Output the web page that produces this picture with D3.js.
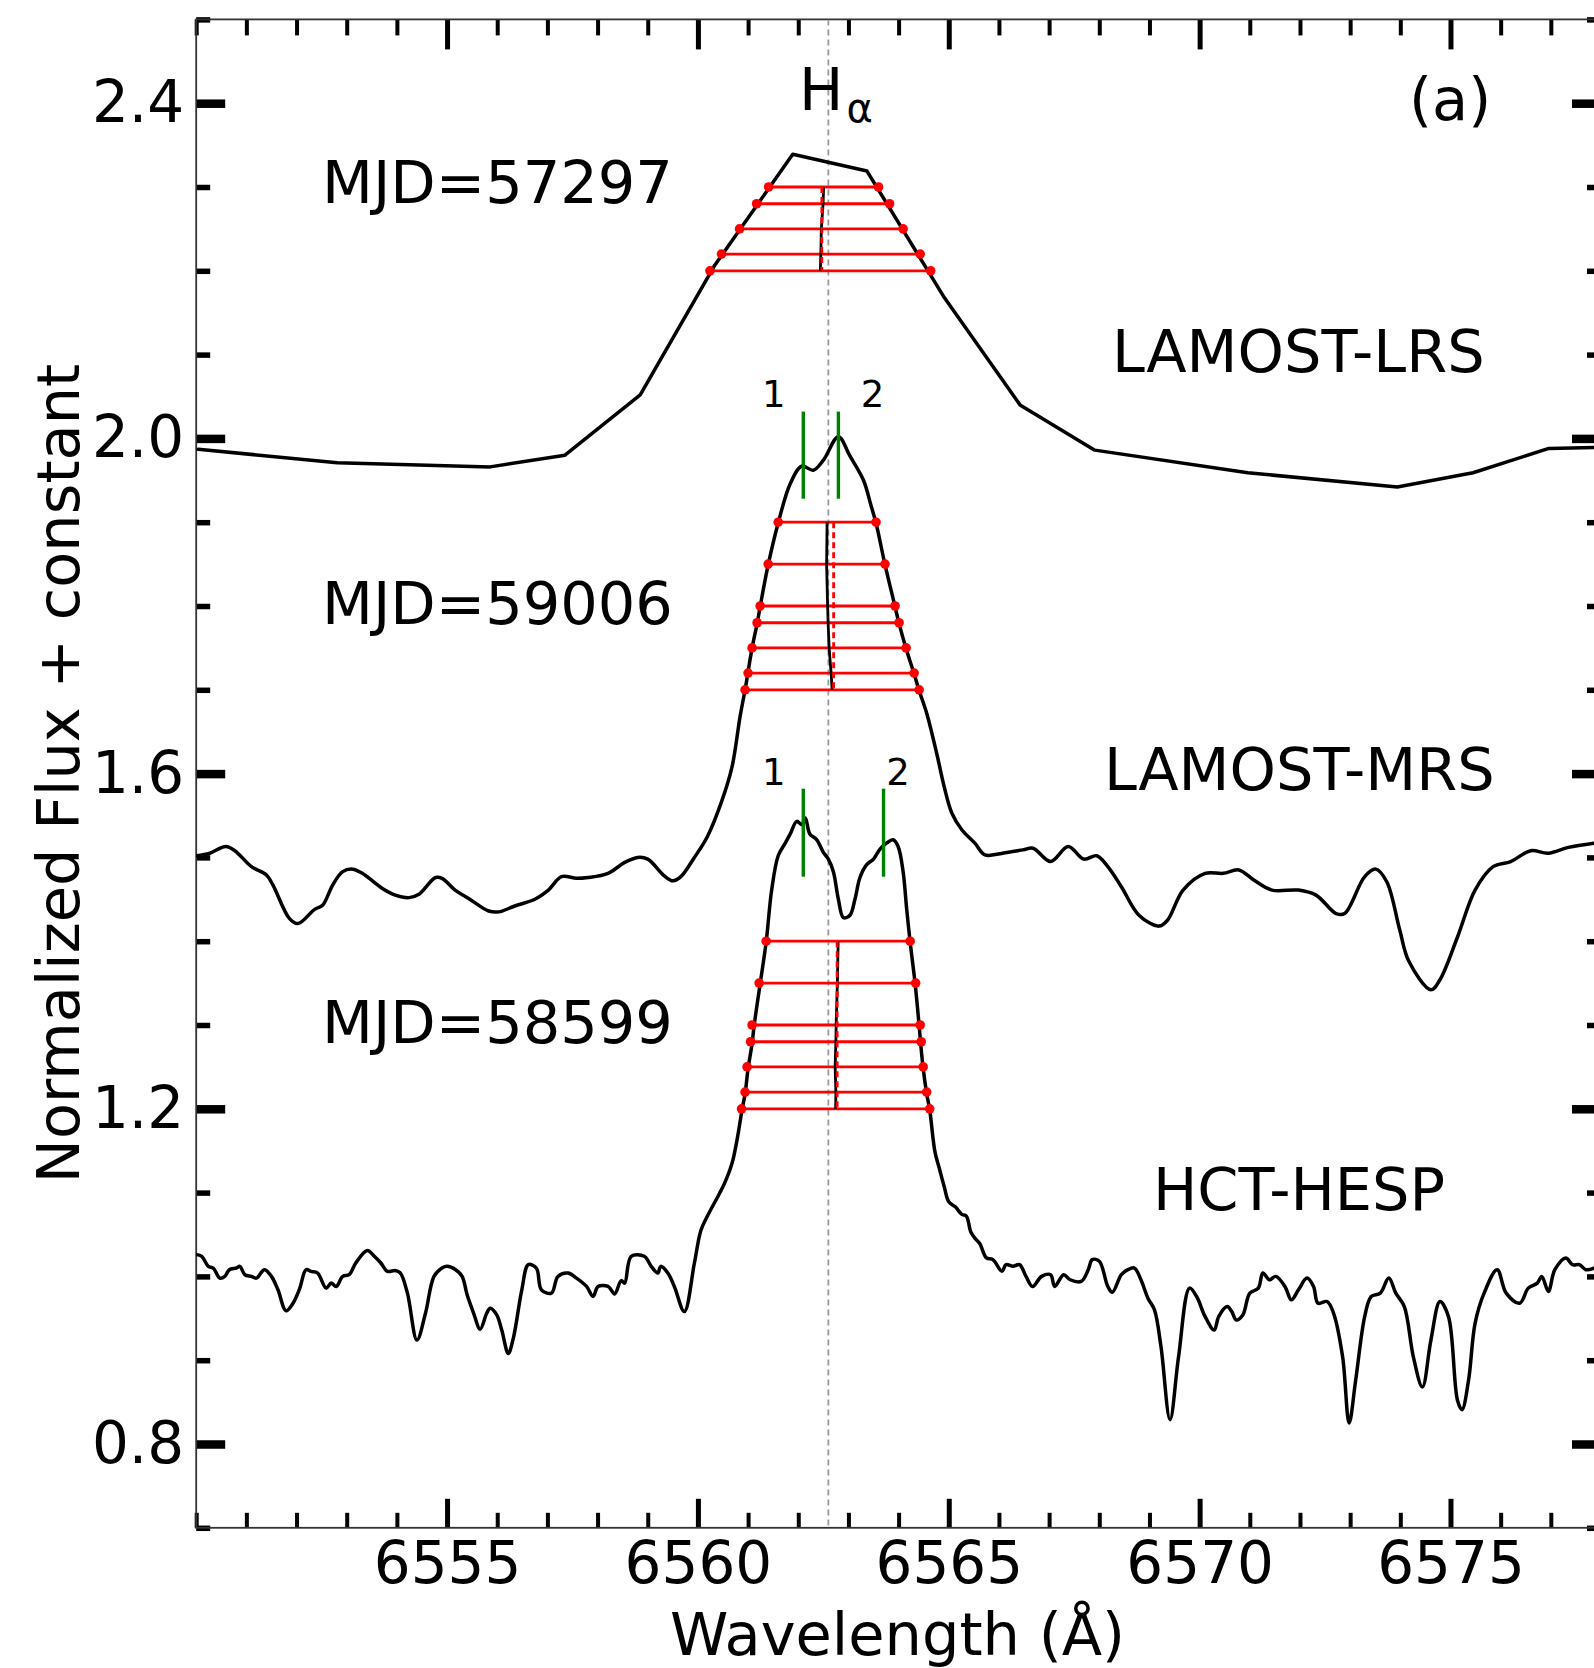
<!DOCTYPE html>
<html><head><meta charset="utf-8">
<script src="https://cdn.jsdelivr.net/npm/d3@7"></script>
<style>
body{margin:0;background:#fff;}
text{font-family:"DejaVu Sans",sans-serif;fill:#000;}
</style></head><body>
<svg id="chart" width="1594" height="1668"></svg>
<script>
// ---------------- DATA ----------------
// LAMOST-LRS (MJD=57297), offset spectrum
const lrsWave = [6550.04,6552.81,6555.86,6557.35,6558.85,6560.34,6561.89,6563.37,6564.89,6566.42,6567.91,6570.96,6573.94,6575.45,6576.96,6577.86];
const lrsFlux = [1.987,1.971,1.966,1.980,2.052,2.207,2.339,2.319,2.170,2.040,1.986,1.959,1.942,1.959,1.988,1.989];

// LAMOST-MRS (MJD=59006)
const mrsWave = [6550.01,6550.27,6550.59,6550.77,6551.10,6551.40,6551.53,6551.86,6552.03,6552.36,6552.52,6552.72,6552.92,6553.12,6553.31,6553.71,6553.97,6554.24,6554.44,6554.77,6554.90,6555.16,6555.43,6555.83,6556.03,6556.35,6556.75,6557.02,6557.28,6557.58,6557.81,6558.21,6558.54,6558.80,6559.00,6559.33,6559.50,6559.66,6559.92,6560.19,6560.48,6560.68,6560.84,6560.94,6561.08,6561.18,6561.24,6561.40,6561.60,6561.84,6562.07,6562.30,6562.50,6562.80,6563.03,6563.30,6563.45,6563.55,6563.73,6563.93,6564.01,6564.15,6564.31,6564.41,6564.56,6564.76,6564.91,6565.06,6565.26,6565.52,6565.72,6566.07,6566.48,6566.68,6567.03,6567.38,6567.69,6567.95,6568.17,6568.44,6568.79,6569.19,6569.36,6569.67,6570.11,6570.47,6570.78,6571.08,6571.44,6571.97,6572.32,6572.72,6572.89,6573.29,6573.51,6573.73,6573.99,6574.17,6574.61,6574.79,6575.14,6575.49,6575.85,6576.20,6576.60,6576.95,6577.35,6577.86];
const mrsFlux = [1.502,1.505,1.513,1.508,1.489,1.479,1.467,1.427,1.421,1.438,1.443,1.467,1.483,1.486,1.481,1.463,1.455,1.452,1.456,1.476,1.475,1.461,1.451,1.436,1.435,1.442,1.450,1.461,1.477,1.475,1.476,1.481,1.494,1.500,1.498,1.478,1.472,1.477,1.499,1.525,1.568,1.608,1.668,1.700,1.750,1.779,1.799,1.849,1.899,1.946,1.967,1.962,1.974,2.002,1.979,1.950,1.920,1.899,1.849,1.799,1.779,1.749,1.719,1.699,1.672,1.624,1.584,1.553,1.533,1.517,1.503,1.505,1.509,1.511,1.495,1.513,1.498,1.502,1.489,1.465,1.431,1.418,1.425,1.461,1.481,1.481,1.485,1.473,1.461,1.461,1.455,1.433,1.433,1.477,1.486,1.471,1.413,1.376,1.342,1.354,1.405,1.461,1.489,1.495,1.508,1.505,1.512,1.517];

// HCT-HESP (MJD=58599)
const hespWave = [6550.01,6550.11,6550.24,6550.34,6550.47,6550.57,6550.66,6550.80,6550.87,6550.97,6551.10,6551.20,6551.36,6551.50,6551.63,6551.79,6551.93,6552.06,6552.19,6552.29,6552.42,6552.59,6552.69,6552.79,6552.92,6553.05,6553.18,6553.41,6553.55,6553.68,6553.81,6553.97,6554.07,6554.21,6554.40,6554.57,6554.74,6554.90,6555.00,6555.17,6555.30,6555.40,6555.53,6555.66,6555.79,6555.86,6555.99,6556.09,6556.22,6556.32,6556.49,6556.62,6556.78,6556.88,6557.08,6557.21,6557.41,6557.58,6557.78,6557.91,6558.01,6558.21,6558.34,6558.47,6558.54,6558.67,6558.93,6559.07,6559.20,6559.26,6559.40,6559.53,6559.73,6559.93,6560.06,6560.19,6560.43,6560.53,6560.68,6560.78,6560.88,6560.94,6561.00,6561.08,6561.12,6561.24,6561.36,6561.47,6561.60,6561.74,6561.84,6561.97,6562.07,6562.14,6562.23,6562.37,6562.50,6562.60,6562.70,6562.80,6562.90,6563.03,6563.13,6563.23,6563.36,6563.50,6563.63,6563.76,6563.89,6563.99,6564.09,6564.16,6564.23,6564.33,6564.41,6564.44,6564.49,6564.56,6564.62,6564.69,6564.73,6564.82,6564.91,6565.00,6565.13,6565.26,6565.35,6565.44,6565.53,6565.62,6565.75,6565.88,6566.06,6566.14,6566.28,6566.41,6566.54,6566.67,6566.85,6567.03,6567.11,6567.29,6567.42,6567.64,6567.78,6567.86,6568.00,6568.17,6568.26,6568.44,6568.57,6568.70,6568.83,6568.97,6569.10,6569.23,6569.41,6569.58,6569.80,6569.94,6570.11,6570.29,6570.38,6570.55,6570.64,6570.73,6570.86,6571.00,6571.17,6571.26,6571.39,6571.52,6571.70,6571.83,6571.97,6572.14,6572.27,6572.36,6572.54,6572.67,6572.85,6572.98,6573.11,6573.29,6573.42,6573.60,6573.77,6573.91,6574.08,6574.26,6574.44,6574.61,6574.79,6574.96,6575.14,6575.23,6575.36,6575.49,6575.67,6575.93,6576.11,6576.38,6576.55,6576.73,6576.82,6576.95,6577.08,6577.30,6577.43,6577.57,6577.70,6577.86];
const hespFlux = [1.026,1.024,1.012,1.010,0.998,1.000,1.008,1.010,1.012,1.002,1.000,0.998,1.008,1.000,0.984,0.959,0.968,0.985,1.008,1.006,1.004,0.986,0.992,0.988,1.000,1.002,1.016,1.031,1.024,1.016,1.006,1.007,1.004,0.980,0.924,0.956,1.000,1.010,1.012,1.008,1.000,0.978,0.956,0.937,0.956,0.962,0.954,0.936,0.908,0.926,0.984,1.014,1.010,0.984,0.980,1.000,1.004,0.998,0.988,0.976,0.988,0.988,0.979,0.995,0.992,1.024,1.024,1.012,1.004,1.012,1.004,0.988,0.958,1.016,1.055,1.072,1.099,1.111,1.135,1.163,1.199,1.218,1.248,1.278,1.299,1.349,1.399,1.461,1.502,1.517,1.528,1.543,1.539,1.547,1.528,1.521,1.506,1.498,1.483,1.450,1.428,1.431,1.450,1.476,1.491,1.498,1.510,1.517,1.521,1.513,1.483,1.439,1.399,1.349,1.299,1.278,1.248,1.218,1.199,1.163,1.147,1.127,1.107,1.089,1.083,1.074,1.072,1.053,1.045,1.039,1.022,1.020,1.006,1.014,1.012,1.014,1.000,0.988,1.000,1.002,0.988,1.002,0.996,0.994,1.008,1.020,1.018,0.988,0.981,1.002,1.008,1.010,0.996,0.974,0.960,0.916,0.829,0.904,0.986,0.976,0.952,0.936,0.952,0.964,0.958,0.948,0.954,0.980,0.986,1.004,0.996,1.000,0.988,0.972,0.984,0.998,0.988,0.968,0.970,0.956,0.904,0.825,0.876,0.952,0.976,0.980,0.998,0.980,0.964,0.904,0.868,0.924,0.970,0.952,0.852,0.841,0.876,0.944,0.980,1.008,0.980,0.968,0.986,0.992,1.000,0.982,1.008,1.022,1.014,1.014,1.008,1.010];

// Bisector levels (flux) with left / right wing wavelengths
const lrsLevels  = [2.30,2.28,2.25,2.22,2.20];
const lrsLeft    = [6561.41,6561.17,6560.83,6560.47,6560.24];
const lrsRight   = [6563.60,6563.82,6564.09,6564.43,6564.64];
const mrsLevels  = [1.90,1.85,1.80,1.78,1.75,1.72,1.70];
const mrsLeft    = [6561.60,6561.40,6561.24,6561.18,6561.08,6561.00,6560.94];
const mrsRight   = [6563.55,6563.73,6563.93,6564.01,6564.15,6564.31,6564.41];
const hespLevels = [1.40,1.35,1.30,1.28,1.25,1.22,1.20];
const hespLeft   = [6561.36,6561.22,6561.08,6561.05,6560.98,6560.94,6560.87];
const hespRight  = [6564.23,6564.34,6564.43,6564.45,6564.49,6564.56,6564.62];

// Emission peak markers (green)
const mrsPeakWave  = [6562.10,6562.80];
const mrsPeakSpan  = [1.928,2.032];
const hespPeakWave = [6562.10,6563.70];
const hespPeakSpan = [1.477,1.582];
const peakNames    = ["1","2"];
const mrsPeakLabelWave  = [6561.51,6563.48];
const mrsPeakLabelFlux  = 2.037;
const hespPeakLabelWave = [6561.51,6563.99];
const hespPeakLabelFlux = 1.586;

const haWave = 6562.6;

// Axis ticks
const xMajorTicks = [6555,6560,6565,6570,6575];
const xMinorTicks = [6550,6551,6552,6553,6554,6556,6557,6558,6559,6561,6562,6563,6564,6566,6567,6568,6569,6571,6572,6573,6574,6576,6577,6578];
const yMajorTicks = [0.8,1.2,1.6,2.0,2.4];
const yMinorTicks = [0.7,0.9,1.0,1.1,1.3,1.4,1.5,1.7,1.8,1.9,2.1,2.2,2.3,2.5];

// ---------------- CHART ----------------
const plotLeft = 196.2, plotTop = 19.4, plotW = 1404.8, plotH = 1508.4;
const svg = d3.select('#chart');
const g = svg.append('g').attr('transform', `translate(${plotLeft},${plotTop})`);
const x = d3.scaleLinear().domain([6550, 6578]).range([0, plotW]);
const y = d3.scaleLinear().domain([0.7, 2.5]).range([plotH, 0]);

const FS_TICK = 58, FS_LAB = 59;

function axisStyle(sel, w) {
  sel.select('.domain').remove();
  sel.selectAll('.tick line').attr('stroke', '#000').attr('stroke-width', w);
  sel.selectAll('.tick text').attr('font-family', 'DejaVu Sans').attr('font-size', FS_TICK).attr('fill', '#000');
  sel.attr('font-family', null).attr('font-size', null);
}

// minor ticks
g.append('g').attr('transform', `translate(0,${plotH})`)
  .call(d3.axisBottom(x).tickValues(xMinorTicks).tickSize(-15).tickFormat('')).call(s => axisStyle(s, 4));
g.append('g')
  .call(d3.axisTop(x).tickValues(xMinorTicks).tickSize(-16).tickFormat('')).call(s => axisStyle(s, 4));
g.append('g')
  .call(d3.axisLeft(y).tickValues(yMinorTicks).tickSize(-14).tickFormat('')).call(s => axisStyle(s, 5.5));
g.append('g').attr('transform', `translate(${plotW},0)`)
  .call(d3.axisRight(y).tickValues(yMinorTicks).tickSize(-14).tickFormat('')).call(s => axisStyle(s, 5.5));

// major ticks
g.append('g').attr('transform', `translate(0,${plotH})`)
  .call(d3.axisBottom(x).tickValues(xMajorTicks).tickSize(-29).tickPadding(14).tickFormat(d3.format('d'))).call(s => axisStyle(s, 5));
g.append('g')
  .call(d3.axisTop(x).tickValues(xMajorTicks).tickSize(-30).tickFormat('')).call(s => axisStyle(s, 5));
g.append('g')
  .call(d3.axisLeft(y).tickValues(yMajorTicks).tickSize(-29).tickPadding(12).tickFormat(d3.format('.1f'))).call(s => axisStyle(s, 8.5));
g.append('g').attr('transform', `translate(${plotW},0)`)
  .call(d3.axisRight(y).tickValues(yMajorTicks).tickSize(-29).tickFormat('')).call(s => axisStyle(s, 8.5));

// frame
g.append('rect').attr('x', 0).attr('y', 0).attr('width', plotW).attr('height', plotH)
  .attr('fill', 'none').attr('stroke', '#333').attr('stroke-width', 1.8);

// clip
svg.append('defs').append('clipPath').attr('id', 'clip')
  .append('rect').attr('width', plotW).attr('height', plotH);
const pg = g.append('g').attr('clip-path', 'url(#clip)');

// H-alpha rest line
pg.append('line').attr('x1', x(haWave)).attr('x2', x(haWave)).attr('y1', 0).attr('y2', plotH)
  .attr('stroke', '#9a9a9a').attr('stroke-width', 1.8).attr('stroke-dasharray', '6,4');

// spectra
const linLine = d3.line().x(d => x(d[0])).y(d => y(d[1]));
const smoothLine = d3.line().x(d => x(d[0])).y(d => y(d[1])).curve(d3.curveCatmullRom.alpha(0.5));
[[lrsWave, lrsFlux, linLine], [mrsWave, mrsFlux, smoothLine], [hespWave, hespFlux, smoothLine]].forEach(([w, f, ln]) => {
  pg.append('path').datum(d3.zip(w, f)).attr('d', ln)
    .attr('fill', 'none').attr('stroke', '#000').attr('stroke-width', 3.5)
    .attr('stroke-linejoin', 'round').attr('stroke-linecap', 'round');
});

// bisectors
function bisector(levels, left, right) {
  const bg = pg.append('g');
  const rows = levels.map((lv, i) => ({ lv, l: left[i], r: right[i], m: (left[i] + right[i]) / 2 }));
  bg.selectAll('line.lvl').data(rows).join('line').attr('class', 'lvl')
    .attr('x1', d => x(d.l)).attr('x2', d => x(d.r)).attr('y1', d => y(d.lv)).attr('y2', d => y(d.lv))
    .attr('stroke', '#ff0000').attr('stroke-width', 2.8);
  bg.selectAll('circle.l').data(rows).join('circle').attr('class', 'l')
    .attr('cx', d => x(d.l)).attr('cy', d => y(d.lv)).attr('r', 4.8).attr('fill', '#ff0000');
  bg.selectAll('circle.r').data(rows).join('circle').attr('class', 'r')
    .attr('cx', d => x(d.r)).attr('cy', d => y(d.lv)).attr('r', 4.8).attr('fill', '#ff0000');
  bg.append('path').datum(rows)
    .attr('d', d3.line().x(d => x(d.m)).y(d => y(d.lv)))
    .attr('fill', 'none').attr('stroke', '#000').attr('stroke-width', 2.8);
  const last = rows[rows.length - 1];
  bg.append('line').attr('x1', x(last.m) + 1.5).attr('x2', x(last.m) + 1.5)
    .attr('y1', y(rows[0].lv)).attr('y2', y(last.lv))
    .attr('stroke', '#ff0000').attr('stroke-width', 2.8).attr('stroke-dasharray', '6,4');
}
bisector(lrsLevels, lrsLeft, lrsRight);
bisector(mrsLevels, mrsLeft, mrsRight);
bisector(hespLevels, hespLeft, hespRight);

// peak markers
function peaks(waves, span, labW, labF) {
  waves.forEach((w, i) => {
    g.append('line').attr('x1', x(w)).attr('x2', x(w)).attr('y1', y(span[0])).attr('y2', y(span[1]))
      .attr('stroke', '#008000').attr('stroke-width', 3.4);
    g.append('text').attr('x', x(labW[i])).attr('y', y(labF)).attr('text-anchor', 'middle')
      .attr('font-size', 37).text(peakNames[i]);
  });
}
peaks(mrsPeakWave, mrsPeakSpan, mrsPeakLabelWave, mrsPeakLabelFlux);
peaks(hespPeakWave, hespPeakSpan, hespPeakLabelWave, hespPeakLabelFlux);

// annotations (absolute page coords)
const ann = svg.append('g');
const haT = ann.append('text').attr('x', 799).attr('y', 110).attr('font-size', FS_LAB);
haT.append('tspan').text('H');
haT.append('tspan').attr('font-size', 40).attr('dx', 3).attr('dy', 12).text('α');
ann.append('text').attr('x', 1409).attr('y', 120).attr('font-size', FS_LAB).text('(a)');
ann.append('text').attr('x', 322).attr('y', 203).attr('font-size', FS_LAB).text('MJD=57297');
ann.append('text').attr('x', 322).attr('y', 624).attr('font-size', FS_LAB).text('MJD=59006');
ann.append('text').attr('x', 322).attr('y', 1043).attr('font-size', FS_LAB).text('MJD=58599');
ann.append('text').attr('x', 1112).attr('y', 372).attr('font-size', FS_LAB).text('LAMOST-LRS');
ann.append('text').attr('x', 1104).attr('y', 790).attr('font-size', FS_LAB).text('LAMOST-MRS');
ann.append('text').attr('x', 1153).attr('y', 1210).attr('font-size', FS_LAB).text('HCT-HESP');

// axis titles
ann.append('text').attr('x', 897.5).attr('y', 1655).attr('text-anchor', 'middle').attr('font-size', FS_LAB)
  .text('Wavelength (Å)');
ann.append('text').attr('transform', 'translate(79,773.5) rotate(-90)').attr('text-anchor', 'middle')
  .attr('font-size', FS_LAB).text('Normalized Flux + constant');
</script>
</body></html>
